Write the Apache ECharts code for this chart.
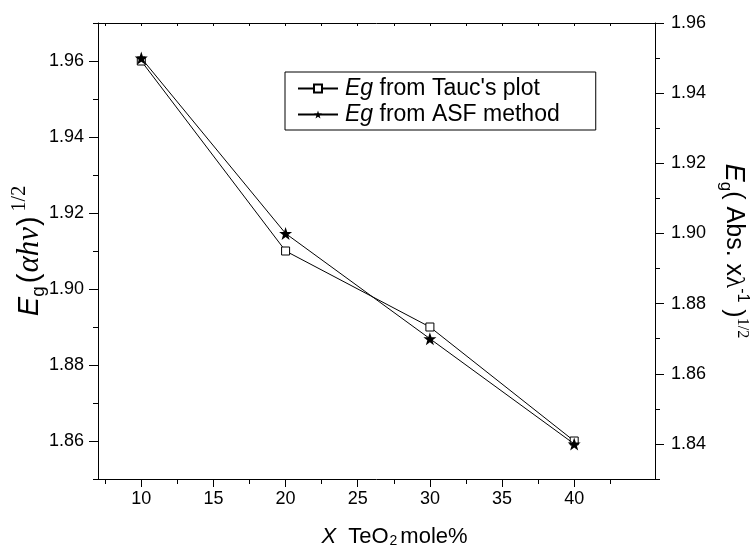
<!DOCTYPE html>
<html><head><meta charset="utf-8">
<script src="https://cdn.jsdelivr.net/npm/echarts@6/dist/echarts.min.js"></script>
<style>html,body{margin:0;padding:0;background:#fff}#c{width:755px;height:549px}</style>
</head><body><div id="c"></div>
<script>
const xValues = [10, 20, 30, 40];
const taucEg = [1.96, 1.91, 1.89, 1.86];
const asfEg = [1.95, 1.90, 1.87, 1.84];
const xMajorTicks = [10, 15, 20, 25, 30, 35, 40];
const xMinorTicks = [7.5, 12.5, 17.5, 22.5, 27.5, 32.5, 37.5, 42.5];
const leftMajorTicks = [1.86, 1.88, 1.90, 1.92, 1.94, 1.96];
const leftMinorTicks = [1.85, 1.87, 1.89, 1.91, 1.93, 1.95, 1.97];
const rightMajorTicks = [1.84, 1.86, 1.88, 1.90, 1.92, 1.94, 1.96];
const rightMinorTicks = [1.83, 1.85, 1.87, 1.89, 1.91, 1.93, 1.95];
const seriesNames = ["Eg from Tauc's plot", "Eg from ASF method"];

const FONT = 'Liberation Sans';
const SERIF = 'Liberation Serif';
const black = '#000';
const X_MIN = 7, X_MAX = 45.6;
const L_MIN = 1.85, L_MAX = 1.97;
const R_MIN = 1.83, R_MAX = 1.96;
const STAR = 'path://M50,0 L61.8,35.1 L97.6,34.5 L69,56.1 L79.4,90.5 L50,70 L20.6,90.5 L31,56.1 L2.4,34.5 L38.2,35.1 Z';

function xAx(extra) {
  return Object.assign({
    type: 'value', min: X_MIN, max: X_MAX, gridIndex: 0, position: 'bottom',
    axisLine: { show: true, onZero: false, lineStyle: { color: black, width: 1 } },
    splitLine: { show: false },
    axisLabel: { show: false },
    axisTick: { show: false }
  }, extra);
}
function yAx(min, max, pos, extra) {
  return Object.assign({
    type: 'value', min: min, max: max, gridIndex: 0, position: pos,
    axisLine: { show: true, onZero: false, lineStyle: { color: black, width: 1 } },
    splitLine: { show: false },
    axisLabel: { show: false },
    axisTick: { show: false }
  }, extra);
}

const chart = echarts.init(document.getElementById('c'), null, { renderer: 'canvas' });
chart.setOption({
  backgroundColor: '#fff',
  animation: false,
  grid: { left: 98, right: 100, top: 23, bottom: 70, containLabel: false, outerBoundsMode: 'none' },
  xAxis: [
    xAx({
      axisTick: { show: true, customValues: xMajorTicks, length: 8, lineStyle: { color: black } },
      axisLabel: { show: true, customValues: xMajorTicks, color: black, fontFamily: FONT, fontSize: 18, margin: 11 },
      name: '{i|X} TeO{sub|2}mole%',
      nameLocation: 'middle', nameGap: 47, nameMoveOverlap: false,
      nameTextStyle: {
        color: black, fontFamily: FONT, fontSize: 22, padding: [0, 0, 0, 36],
        rich: {
          i: { fontFamily: FONT, fontStyle: 'italic', fontSize: 22, color: black, padding: [0, 6, 0, 0] },
          sub: { fontFamily: FONT, fontSize: 14, color: black, verticalAlign: 'bottom', padding: [8, 3, 0, 1] }
        }
      }
    }),
    xAx({ axisLine: { show: false, onZero: false },
      axisTick: { show: true, customValues: xMinorTicks, length: 5, lineStyle: { color: black } } }),
    xAx({ position: 'top',
      axisTick: { show: true, inside: true, customValues: xMinorTicks.concat(xMajorTicks), length: 3, lineStyle: { color: black } } })
  ],
  yAxis: [
    yAx(L_MIN, L_MAX, 'left', {
      axisTick: { show: true, customValues: leftMajorTicks, length: 9, lineStyle: { color: black } },
      axisLabel: { show: true, customValues: leftMajorTicks, color: black, fontFamily: FONT, fontSize: 18, margin: 14,
        formatter: v => v.toFixed(2) },
      name: '{e|E}{sub|g}{n|(}{g|\u03b1h\u03bd}{n|)}{sup|1/2}',
      nameLocation: 'middle', nameGap: 48, nameMoveOverlap: false,
      nameTextStyle: {
        color: black, fontFamily: FONT, fontSize: 29,
        rich: {
          e: { fontFamily: FONT, fontStyle: 'italic', fontSize: 29, color: black, lineHeight: 40, verticalAlign: 'middle' },
          sub: { fontFamily: FONT, fontSize: 19, color: black, lineHeight: 40, verticalAlign: 'bottom', padding: [0, 2, 2, 0] },
          n: { fontFamily: FONT, fontSize: 29, color: black, lineHeight: 40, verticalAlign: 'middle', padding: [0, 1, 0, 1] },
          g: { fontFamily: SERIF, fontStyle: 'italic', fontSize: 31, color: black, lineHeight: 40, verticalAlign: 'middle' },
          sup: { fontFamily: SERIF, fontSize: 20, color: black, lineHeight: 40, verticalAlign: 'top', padding: [0, 0, 0, 4] }
        }
      }
    }),
    yAx(L_MIN, L_MAX, 'left', { axisLine: { show: false, onZero: false },
      axisTick: { show: true, customValues: leftMinorTicks, length: 5, lineStyle: { color: black } } }),
    yAx(R_MIN, R_MAX, 'right', {
      axisTick: { show: true, customValues: rightMajorTicks, length: 9, lineStyle: { color: black } },
      axisLabel: { show: true, customValues: rightMajorTicks, color: black, fontFamily: FONT, fontSize: 18, margin: 16,
        formatter: v => v.toFixed(2) },
      name: '{e|E}{sub|g}{n|( Abs. x}{g|\u03bb}{sup2|-1}{n| )}{sup|1/2}',
      nameLocation: 'middle', nameGap: 60, nameRotate: -90, nameMoveOverlap: false,
      nameTextStyle: {
        color: black, fontFamily: FONT, fontSize: 25,
        rich: {
          e: { fontFamily: FONT, fontStyle: 'italic', fontSize: 27, color: black, lineHeight: 38, verticalAlign: 'middle' },
          sub: { fontFamily: FONT, fontSize: 17, color: black, lineHeight: 38, verticalAlign: 'bottom', padding: [0, 0, 2, 0] },
          n: { fontFamily: FONT, fontSize: 25, color: black, lineHeight: 38, verticalAlign: 'middle' },
          g: { fontFamily: SERIF, fontSize: 25, color: black, lineHeight: 38, verticalAlign: 'middle' },
          sup2: { fontFamily: FONT, fontSize: 16, color: black, lineHeight: 38, verticalAlign: 'top', padding: [3, 0, 0, 0] },
          sup: { fontFamily: SERIF, fontSize: 16, color: black, lineHeight: 38, verticalAlign: 'top', padding: [3, 0, 0, 0] }
        }
      }
    }),
    yAx(R_MIN, R_MAX, 'right', { axisLine: { show: false, onZero: false },
      axisTick: { show: true, customValues: rightMinorTicks, length: 5, lineStyle: { color: black } } })
  ],
  legend: {
    show: true, orient: 'vertical', left: 285, top: 72,
    borderColor: black, borderWidth: 1, padding: [5, 36, 4, 12],
    itemGap: 3, itemWidth: 40, itemHeight: 10,
    data: seriesNames,
    formatter: n => '{i|Eg}' + n.slice(2),
    textStyle: {
      color: black, fontFamily: FONT, fontSize: 23, padding: [0, 0, 0, 2],
      rich: { i: { fontFamily: FONT, fontStyle: 'italic', fontSize: 23, color: black } }
    }
  },
  series: [
    {
      name: seriesNames[0], type: 'line', xAxisIndex: 0, yAxisIndex: 0,
      data: xValues.map((x, i) => [x, taucEg[i]]),
      symbol: 'rect', symbolSize: 8,
      lineStyle: { color: black, width: 1 },
      itemStyle: { color: '#fff', borderColor: black, borderWidth: 1 },
      z: 2
    },
    {
      name: seriesNames[1], type: 'line', xAxisIndex: 0, yAxisIndex: 2,
      data: xValues.map((x, i) => [x, asfEg[i]]),
      symbol: STAR, symbolSize: 13,
      lineStyle: { color: black, width: 1 },
      itemStyle: { color: black },
      z: 3
    }
  ]
});
</script>
</body></html>
